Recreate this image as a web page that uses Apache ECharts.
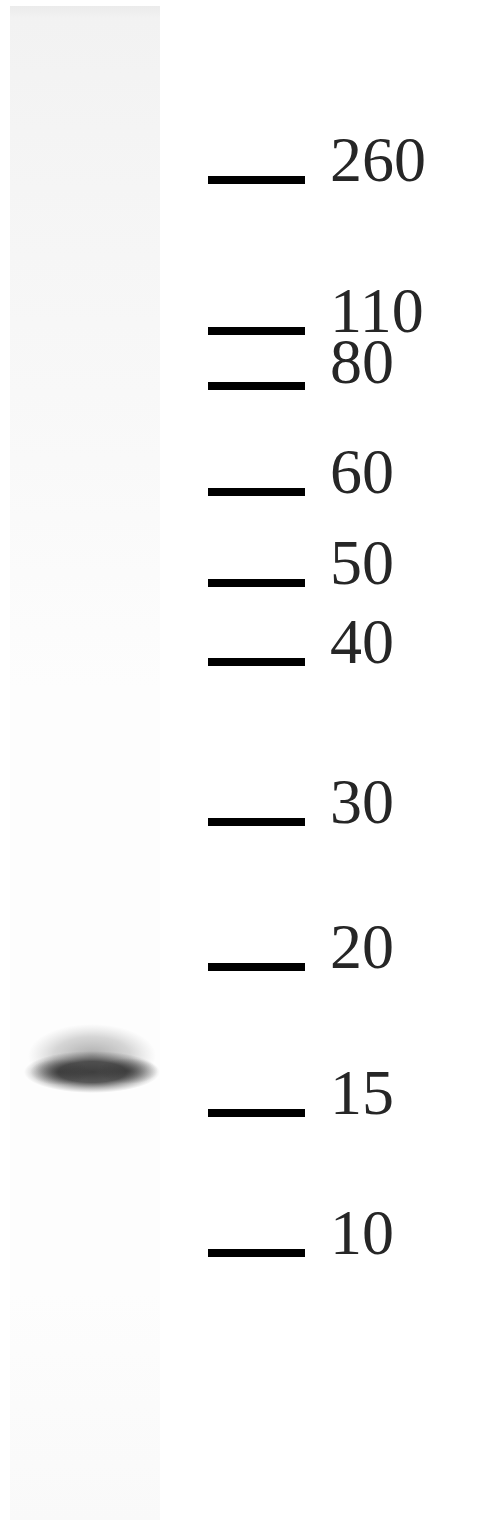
<!DOCTYPE html>
<html><head><meta charset="utf-8">
<script src="https://cdn.jsdelivr.net/npm/echarts@6/dist/echarts.min.js"></script>
<style>html,body{margin:0;padding:0;background:#fff}#c{width:479px;height:1520px}</style>
</head><body><div id="c"></div>
<script>
// Marker ladder (kDa) and migration position (distance from top of blot)
const markerLabels = ['260','110','80','60','50','40','30','20','15','10'];
const markerPos = [180, 331, 386, 492, 583, 662, 822, 967, 1113, 1253];
// Sample lane band(s): migration position and relative intensity
const bandLane = [0];
const bandPos = [1070];
const bandIntensity = [1.0];

// layout constants
const W = 479, H = 1520;
const LANE_X0 = 10, LANE_X1 = 160, LANE_CX = 92;
const MARK_X0 = 208, MARK_X1 = 305;

const chart = echarts.init(document.getElementById('c'), null, {renderer: 'canvas'});

function ell(x, y, rx, ry, stops) {
  return {
    type: 'circle', x: x, y: y, scaleX: rx / 10, scaleY: ry / 10,
    shape: {cx: 0, cy: 0, r: 10},
    style: {fill: {type: 'radial', x: 0.5, y: 0.5, r: 0.5, colorStops: stops}}
  };
}
function grey(v, a) { return 'rgba(' + v + ',' + v + ',' + v + ',' + a + ')'; }

const option = {
  animation: false,
  backgroundColor: '#ffffff',
  grid: {left: 0, right: 0, top: 0, bottom: 0},
  xAxis: {type: 'value', min: 0, max: W, show: false},
  yAxis: {type: 'value', min: 0, max: H, inverse: true, show: false},
  series: [
    {
      type: 'custom', silent: true, z: 1,
      data: [[0]],
      renderItem: function (params, api) {
        const p0 = api.coord([LANE_X0, 6]);
        const p1 = api.coord([LANE_X1, H]);
        return {
          type: 'rect',
          shape: {x: p0[0], y: p0[1], width: p1[0] - p0[0], height: p1[1] - p0[1]},
          style: {fill: {type: 'linear', x: 0, y: 0, x2: 0, y2: 1, colorStops: [
            {offset: 0, color: '#ebebeb'},
            {offset: 0.008, color: '#f2f2f2'},
            {offset: 0.12, color: '#f5f5f5'},
            {offset: 0.3, color: '#f9f9f9'},
            {offset: 0.45, color: '#fdfdfd'},
            {offset: 0.85, color: '#fdfdfd'},
            {offset: 1, color: '#f9f9f9'}
          ]}}
        };
      }
    },
    {
      type: 'custom', silent: true, z: 2,
      data: bandPos.map((p, i) => [bandLane[i], p, bandIntensity[i]]),
      renderItem: function (params, api) {
        const y = api.value(1), k = api.value(2);
        const c = api.coord([LANE_CX, y]);
        const cx = c[0], cy = c[1];
        return {
          type: 'group',
          children: [
            ell(cx, cy - 14, 64, 32, [
              {offset: 0, color: grey(90, 0.5 * k)},
              {offset: 0.6, color: grey(110, 0.28 * k)},
              {offset: 1, color: grey(140, 0)}
            ]),
            ell(cx, cy + 2, 68, 21, [
              {offset: 0, color: grey(50, 0.92 * k)},
              {offset: 0.5, color: grey(55, 0.82 * k)},
              {offset: 1, color: grey(90, 0)}
            ]),
            ell(cx - 32, cy + 2, 30, 13, [
              {offset: 0, color: grey(40, 0.5 * k)},
              {offset: 1, color: grey(40, 0)}
            ]),
            ell(cx + 36, cy + 1, 30, 13, [
              {offset: 0, color: grey(40, 0.55 * k)},
              {offset: 1, color: grey(40, 0)}
            ])
          ]
        };
      }
    },
    {
      type: 'scatter', silent: true, z: 3,
      data: markerPos.map((p, i) => ({
        value: [(MARK_X0 + MARK_X1) / 2, p],
        label: markerLabels[i] === '80' ? {offset: [0, -20]} : undefined
      })),
      symbol: 'rect',
      symbolSize: [MARK_X1 - MARK_X0, 8],
      itemStyle: {color: '#000', opacity: 1},
      label: {
        show: true, position: 'right', distance: 25, offset: [0, -16],
        formatter: p => markerLabels[p.dataIndex],
        fontFamily: '"Liberation Serif", "DejaVu Serif", serif',
        fontSize: 64, color: '#262626'
      }
    }
  ]
};
chart.setOption(option);
</script></body></html>
